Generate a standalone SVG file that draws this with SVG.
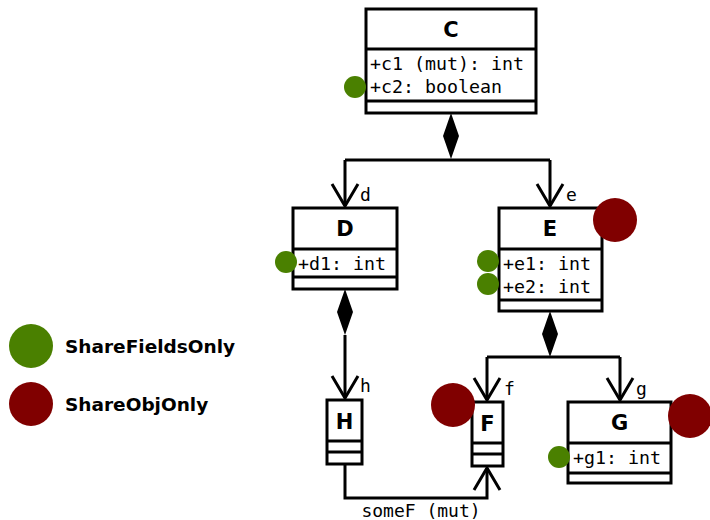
<svg xmlns="http://www.w3.org/2000/svg" width="710" height="520" viewBox="0 0 710 520">
<style>
.box{fill:#fff;stroke:#000;stroke-width:3}
.ln{fill:none;stroke:#000;stroke-width:3}
.ttl{font-family:"DejaVu Sans",sans-serif;font-weight:bold;font-size:21px;text-anchor:middle}
.fld{font-family:"DejaVu Sans Mono",monospace;font-size:18.3px}
.lbl{font-family:"DejaVu Sans Mono",monospace;font-size:18px}
.leg{font-family:"DejaVu Sans",sans-serif;font-weight:bold;font-size:18.5px}
.g{fill:#4a8000}
.r{fill:#800000}
</style>
<defs>
<path id="dia" d="M0,0 L-8,23 L0,46 L8,23 Z" fill="#000"/>
<path id="arr" d="M-13,-22 L0,0 L13,-22" fill="none" stroke="#000" stroke-width="3"/>
</defs>
<g id="connectors">
<use href="#dia" x="451" y="113"/>
<path class="ln" d="M451,159 V160 M345,160 H550 M345,160 V206 M550,160 V206"/>
<use href="#arr" x="345" y="206"/>
<use href="#arr" x="550" y="206"/>
<text class="lbl" x="360" y="201">d</text>
<text class="lbl" x="566" y="201">e</text>
<use href="#dia" x="345" y="289"/>
<path class="ln" d="M345,335 V398"/>
<use href="#arr" x="345" y="398"/>
<text class="lbl" x="360" y="392">h</text>
<use href="#dia" x="550" y="311"/>
<path class="ln" d="M487,357 H620 M487,357 V400 M620,357 V400"/>
<use href="#arr" x="487" y="400"/>
<use href="#arr" x="620" y="400"/>
<text class="lbl" x="504" y="395">f</text>
<text class="lbl" x="636" y="395">g</text>
<path class="ln" d="M345,464 V498 H487 V468"/>
<use href="#arr" x="487" y="468" transform="rotate(180 487 468)"/>
<text class="lbl" x="421" y="517" text-anchor="middle">someF (mut)</text>
</g>
<g id="C">
<rect class="box" x="366" y="9" width="170" height="104"/>
<path class="ln" d="M366,49 H536 M366,101 H536"/>
<text class="ttl" x="451" y="37">C</text>
<text class="fld" x="370" y="70">+c1 (mut): int</text>
<text class="fld" x="370" y="93">+c2: boolean</text>
<circle class="g" cx="355" cy="87" r="11"/>
</g>
<g id="D">
<rect class="box" x="293" y="208" width="104" height="81"/>
<path class="ln" d="M293,249 H397 M293,277 H397"/>
<text class="ttl" x="345" y="236">D</text>
<text class="fld" x="298" y="270">+d1: int</text>
<circle class="g" cx="286" cy="262" r="11"/>
</g>
<g id="E">
<rect class="box" x="499" y="208" width="103" height="103"/>
<path class="ln" d="M499,249 H602 M499,300 H602"/>
<text class="ttl" x="550" y="236">E</text>
<text class="fld" x="503" y="270">+e1: int</text>
<text class="fld" x="503" y="293">+e2: int</text>
<circle class="g" cx="488" cy="261" r="11"/>
<circle class="g" cx="488" cy="284" r="11"/>
<circle class="r" cx="615" cy="220" r="22"/>
</g>
<g id="H">
<rect class="box" x="327" y="400" width="35" height="64"/>
<path class="ln" d="M327,441 H362 M327,452 H362"/>
<text class="ttl" x="344.5" y="429">H</text>
</g>
<g id="F">
<rect class="box" x="472" y="402" width="31" height="64"/>
<path class="ln" d="M472,443 H503 M472,454 H503"/>
<text class="ttl" x="487.5" y="431">F</text>
<circle class="r" cx="453" cy="405" r="22"/>
</g>
<g id="G">
<rect class="box" x="568" y="402" width="103" height="81"/>
<path class="ln" d="M568,443 H671 M568,473 H671"/>
<text class="ttl" x="619.5" y="430">G</text>
<text class="fld" x="573" y="464">+g1: int</text>
<circle class="g" cx="559" cy="457" r="11"/>
<circle class="r" cx="690" cy="416" r="22"/>
</g>
<g id="legend">
<circle class="g" cx="31" cy="346" r="22"/>
<text class="leg" x="65" y="353">ShareFieldsOnly</text>
<circle class="r" cx="31" cy="404" r="22"/>
<text class="leg" x="65" y="411">ShareObjOnly</text>
</g>
</svg>
